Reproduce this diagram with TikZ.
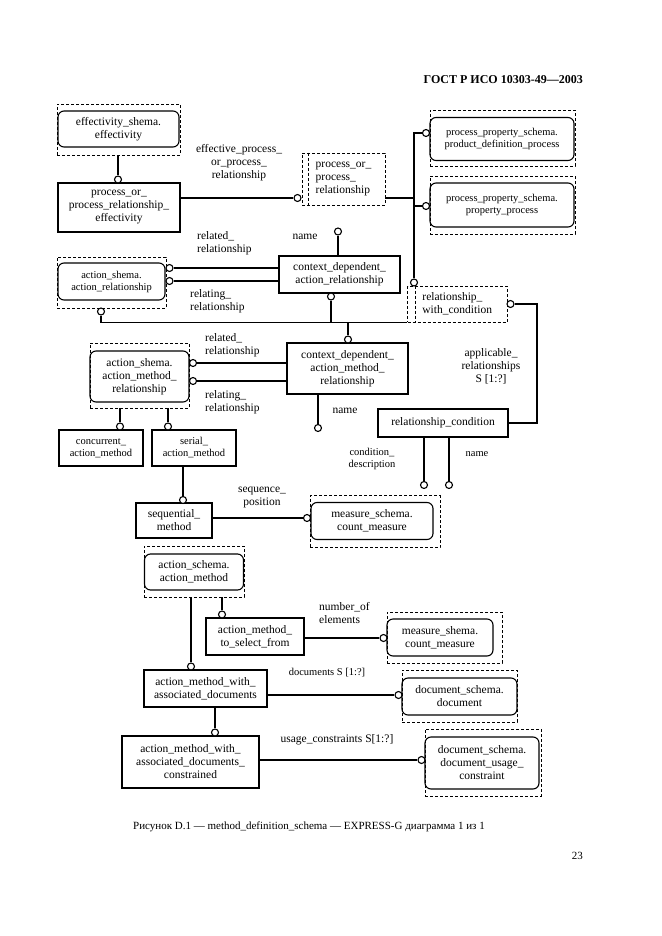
\documentclass[tikz,border=0pt]{standalone}
\usepackage{fontspec}
\setmainfont{Liberation Serif}
\newcommand{\mainf}{\fontsize{11.5}{13}\selectfont}
\newcommand{\smallf}{\fontsize{10.5}{12}\selectfont}

\begin{document}
\begin{tikzpicture}[x=1pt, y=-1pt,
  entbox/.style={draw, line width=1.3pt, align=center, font=\mainf, inner sep=1pt},
  extbox/.style={draw, rounded corners=6pt, line width=1.1pt, align=center, font=\smallf, inner sep=1pt},
  dashbox/.style={draw, dash pattern=on 3pt off 2pt, line width=0.7pt, inner sep=0pt},
  ring/.style={circle, draw, line width=1.1pt, fill=white, inner sep=0pt, minimum size=7pt},
  rel/.style={line width=1.2pt},
  thickrel/.style={line width=2.6pt},
  lbl/.style={align=center, font=\mainf, inner sep=0pt},
  slbl/.style={align=center, font=\smallf, inner sep=0pt}]
\useasboundingbox (0,0) rectangle (661,936);

\node[font=\fontsize{12}{14}\selectfont\bfseries, anchor=east, inner sep=0pt] (head) at (583,80) {ГОСТ Р ИСО 10303-49---2003};

\node[dashbox, minimum width=123pt, minimum height=51pt] (effd) at (118.5,129.5) {};
\node[extbox, font=\mainf, minimum width=121pt, minimum height=36pt] (eff) at (118.5,129) {effectivity\_shema.\\effectivity};
\node[entbox, minimum width=122pt, minimum height=49pt] (pe) at (119,207.5) {process\_or\_\\process\_relationship\_\\effectivity};
\node[dashbox, font=\mainf, align=left, minimum width=83pt, minimum height=52pt] (por) at (343.5,179) {process\_or\_\\process\_\\relationship};
\draw[dashbox] ([xshift=6.5pt]por.north west) -- ([xshift=6.5pt]por.south west);

\node[dashbox, minimum width=145pt, minimum height=56pt] (pp1d) at (502.5,138) {};
\node[extbox, minimum width=144pt, minimum height=43pt] (pp1) at (502,139) {process\_property\_schema.\\product\_definition\_process};
\node[dashbox, minimum width=145pt, minimum height=58pt] (pp2d) at (502.5,205) {};
\node[extbox, minimum width=144pt, minimum height=44pt] (pp2) at (502,205) {process\_property\_schema.\\property\_process};

\node[entbox, minimum width=121pt, minimum height=37pt] (cdar) at (339.5,274.5) {context\_dependent\_\\action\_relationship};
\node[dashbox, minimum width=109pt, minimum height=51pt] (ard) at (111.5,282.5) {};
\node[extbox, minimum width=107pt, minimum height=37pt] (ar) at (111.5,281.5) {action\_shema.\\action\_relationship};
\node[dashbox, font=\mainf, align=left, minimum width=99.5pt, minimum height=36pt] (rwc) at (457.25,304) {relationship\_\\with\_condition};
\draw[dashbox] ([xshift=8pt]rwc.north west) -- ([xshift=8pt]rwc.south west);

\node[entbox, line width=1.6pt, minimum width=121pt, minimum height=51pt] (cdamr) at (347.5,368.5) {context\_dependent\_\\action\_method\_\\relationship};
\node[dashbox, minimum width=99pt, minimum height=65pt] (amrd) at (139.5,375.5) {};
\node[extbox, font=\mainf, minimum width=99pt, minimum height=51pt] (amr) at (139.5,376.5) {action\_shema.\\action\_method\_\\relationship};
\node[entbox, line width=1.6pt, minimum width=130pt, minimum height=28pt] (rc) at (443,423) {relationship\_condition};
\node[entbox, font=\smallf, minimum width=84pt, minimum height=36pt] (cam) at (101,448) {concurrent\_\\action\_method};
\node[entbox, font=\smallf, minimum width=84pt, minimum height=36pt] (sam) at (194,448) {serial\_\\action\_method};
\node[entbox, minimum width=76pt, minimum height=35pt] (seq) at (174,520.5) {sequential\_\\method};
\node[dashbox, minimum width=130pt, minimum height=52pt] (mcd) at (375,521.5) {};
\node[extbox, font=\mainf, minimum width=122pt, minimum height=37pt] (mc) at (372,521) {measure\_schema.\\count\_measure};

\node[dashbox, minimum width=100pt, minimum height=51pt] (amd) at (194,571.5) {};
\node[extbox, font=\mainf, minimum width=99pt, minimum height=36pt] (am) at (194,572) {action\_schema.\\action\_method};
\node[entbox, minimum width=98pt, minimum height=37pt] (ts) at (255,636.5) {action\_method\_\\to\_select\_from};
\node[dashbox, minimum width=115pt, minimum height=51pt] (msd) at (444.5,637.5) {};
\node[extbox, font=\mainf, minimum width=106pt, minimum height=37pt] (ms) at (440,637.5) {measure\_shema.\\count\_measure};
\node[entbox, minimum width=123pt, minimum height=37pt] (ad) at (205.5,688.5) {action\_method\_with\_\\associated\_documents};
\node[dashbox, minimum width=115pt, minimum height=52pt] (ddd) at (459.5,696) {};
\node[extbox, font=\mainf, minimum width=115pt, minimum height=37pt] (dd) at (459.5,696.5) {document\_schema.\\document};
\node[entbox, minimum width=137pt, minimum height=52pt] (adc) at (190.5,762) {action\_method\_with\_\\associated\_documents\_\\constrained};
\node[dashbox, minimum width=116pt, minimum height=67pt] (dud) at (483,762.5) {};
\node[extbox, font=\mainf, minimum width=114pt, minimum height=52pt] (du) at (482,763) {document\_schema.\\document\_usage\_\\constraint};

\node[ring] (oE) at (118,179.5) {};
\node[ring] (oP) at (297.5,198) {};
\node[ring] (o1) at (426,133) {};
\node[ring] (o2) at (426,206) {};
\node[ring] (oRW) at (414,282.5) {};
\node[ring] (oRc) at (510.5,304) {};
\node[ring] (oN1) at (338,231.5) {};
\node[ring] (oAr1) at (169.5,268) {};
\node[ring] (oAr2) at (169.5,281) {};
\node[ring] (oA) at (101,311.5) {};
\node[ring] (oC) at (331,296.5) {};
\node[ring] (oM) at (348,339.5) {};
\node[ring] (oR1) at (193,363) {};
\node[ring] (oR2) at (193,381) {};
\node[ring] (oN2) at (318,428) {};
\node[ring] (oCd) at (424,485) {};
\node[ring] (oNm) at (449,485) {};
\node[ring] (oCc) at (120,426.5) {};
\node[ring] (oSe) at (168,426.5) {};
\node[ring] (oSq) at (183,500) {};
\node[ring] (oMC) at (307,518) {};
\node[ring] (oAD) at (191,666.5) {};
\node[ring] (oTS) at (222,614.5) {};
\node[ring] (oMS) at (383.5,638) {};
\node[ring] (oD) at (398.5,695) {};
\node[ring] (oAC) at (215,732.5) {};
\node[ring] (oU) at (421.5,760) {};
\coordinate (jTop) at (414,133);
\coordinate (jR) at (537,304);

\draw[thickrel] (effd.south -| oE) -- (oE);
\draw[rel] (pe.east |- oP) -- (oP);
\draw[rel] (por.east |- oP) -- (oP -| jTop);
\draw[rel] (o1) -- (jTop) -- (oRW);
\draw[rel] (o2) -- (o2 -| jTop);
\draw[rel] (cdar.north -| oN1) -- (oN1);
\draw[rel] (cdar.west |- oAr1) -- (oAr1);
\draw[rel] (cdar.west |- oAr2) -- (oAr2);
\draw[rel] (oA) -- (oA |- rwc.south) -- (rwc.south west);
\draw[rel] (oC) -- (oC |- rwc.south);
\draw[rel] (oM |- rwc.south) -- (oM);
\draw[rel] (oRc) -- (jR) -- (jR |- rc.east) -- (rc.east);
\draw[rel] (cdamr.west |- oR1) -- (oR1);
\draw[rel] (cdamr.west |- oR2) -- (oR2);
\draw[rel] (cdamr.south -| oN2) -- (oN2);
\draw[rel] (rc.south -| oCd) -- (oCd);
\draw[rel] (rc.south -| oNm) -- (oNm);
\draw[thickrel] (amrd.south -| oCc) -- (oCc);
\draw[thickrel] (amrd.south -| oSe) -- (oSe);
\draw[rel] (sam.south -| oSq) -- (oSq);
\draw[rel] (seq.east |- oMC) -- (oMC);
\draw[rel] (amd.south -| oAD) -- (oAD);
\draw[thickrel] (amd.south -| oTS) -- (oTS);
\draw[rel] (ts.east |- oMS) -- (oMS);
\draw[rel] (ad.east |- oD) -- (oD);
\draw[rel] (ad.south -| oAC) -- (oAC);
\draw[rel] (adc.east |- oU) -- (oU);

\node[lbl] (lEff) at (239,163) {effective\_process\_\\or\_process\_\\relationship};
\node[lbl] (lName1) at (305,237) {name};
\node[lbl, align=left, anchor=west] (lRelated1) at (197,243) {related\_\\relationship};
\node[lbl, align=left, anchor=west] (lRelating1) at (190,301) {relating\_\\relationship};
\node[lbl, align=left, anchor=west] (lRelated2) at (205,345) {related\_\\relationship};
\node[lbl, align=left, anchor=west] (lRelating2) at (205,402.5) {relating\_\\relationship};
\node[lbl] (lName2) at (345,411) {name};
\node[lbl] (lAppl) at (491,366) {applicable\_\\relationships\\S [1:?]};
\node[slbl] (lCond) at (372,459) {condition\_\\description};
\node[slbl] (lName3) at (477,454) {name};
\node[lbl] (lSeq) at (262,497) {sequence\_\\position};
\node[lbl, align=left, anchor=west] (lNum) at (319,613) {number\_of\\elements};
\node[slbl] (lDocs) at (327,673) {documents S [1:?]};
\node[lbl] (lUsage) at (337,740) {usage\_constraints S[1:?]};

\node[font=\fontsize{11}{13}\selectfont, anchor=west, inner sep=0pt] (cap) at (133,827) {Рисунок D.1 --- method\_definition\_schema --- EXPRESS-G диаграмма 1 из 1};
\node[font=\fontsize{11}{13}\selectfont, anchor=east, inner sep=0pt] (page) at (583,856) {23};
\end{tikzpicture}
\end{document}
